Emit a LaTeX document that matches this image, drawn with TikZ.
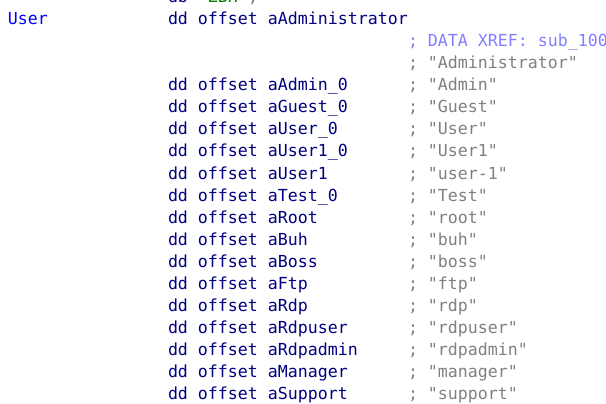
\documentclass[tikz,border=0pt]{standalone}
\usepackage{fontspec}
\setmonofont{DejaVu Sans Mono}
\definecolor{lblblue}{HTML}{0000FF}
\definecolor{navy}{HTML}{000080}
\definecolor{xrefc}{HTML}{8080FF}
\definecolor{strgray}{HTML}{808080}
\definecolor{grn}{HTML}{008000}
\tikzset{
  tok/.style={inner sep=0pt, outer sep=0pt, anchor=base west,
    font=\ttfamily\fontsize{16.6pt}{22pt}\selectfont},
  lbl/.style={tok, text=lblblue},
  code/.style={tok, text=navy},
  xref/.style={tok, text=xrefc},
  strc/.style={tok, text=strgray},
  grnc/.style={tok, text=grn},
}
\newcommand{\colx}[1]{\fpeval{8+10*#1}pt}
\begin{document}
\begin{tikzpicture}[x=1pt,y=1pt]
\useasboundingbox (0,0) rectangle (606,-404);
\fill[white] (0,0) rectangle (606,-404);
\clip (0,0) rectangle (606,-404);
% clipped top line
\node[code] (t0) at (168,-3) {db};
\node[grnc] (t1) at (198,-3) {'ZBH'};
\node[strc] (t2) at (248,-3) {,};
% label row
\node[lbl] (ulab) at (8,-25) {User};
\node[code] (u1) at (168,-25) {dd offset aAdministrator};
\node[xref] (x1) at (408,-47) {; DATA XREF: sub\_10001234};
\node[strc] (s0) at (408,-69) {; "Administrator"};
\foreach \nm/\st [count=\i] in {aAdmin\_0/Admin, aGuest\_0/Guest, aUser\_0/User,
  aUser1\_0/User1, aUser1/user-1, aTest\_0/Test, aRoot/root, aBuh/buh,
  aBoss/boss, aFtp/ftp, aRdp/rdp, aRdpuser/rdpuser, aRdpadmin/rdpadmin,
  aManager/manager, aSupport/support}{
  \node[code] (c\i) at (168,{-69-22*\i}) {dd offset \nm};
  \node[strc] (s\i) at (408,{-69-22*\i}) {; "\st"};
}
\end{tikzpicture}
\end{document}
